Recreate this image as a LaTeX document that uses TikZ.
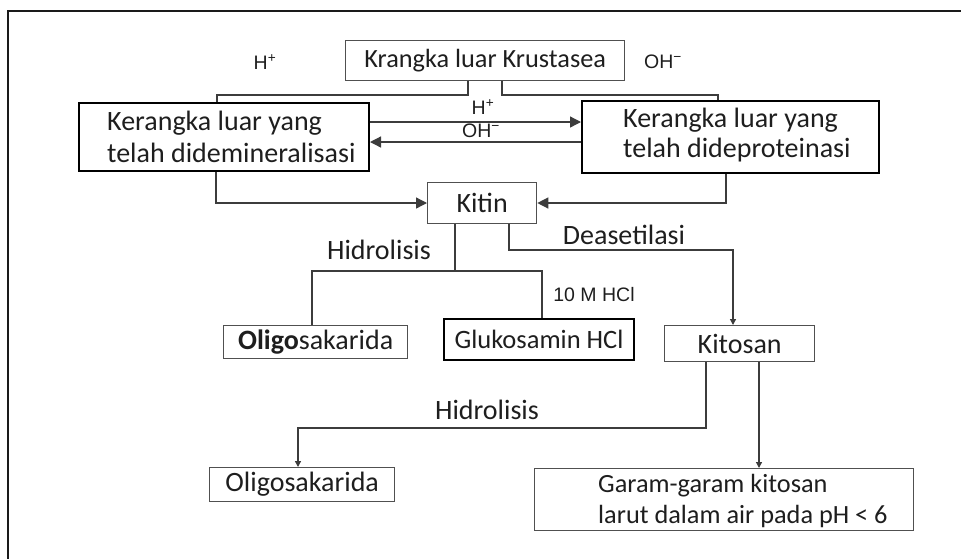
\documentclass[tikz,border=0pt]{standalone}
\usepackage{fontspec}
\setmainfont{Carlito}
\newfontfamily\arialf{Liberation Sans}
\usetikzlibrary{arrows.meta}
\definecolor{txt}{HTML}{1E1E1E}
\definecolor{linegray}{HTML}{3C3C3C}
\definecolor{boxgray}{HTML}{505050}
\definecolor{framec}{HTML}{1A1A1A}
\begin{document}
\begin{tikzpicture}[x=1pt,y=-1pt,
  box/.style={draw=boxgray, line width=1.3pt, inner sep=0pt, anchor=north west, text=txt,
    font=\fontsize{28}{32}\selectfont},
  bbox/.style={box, draw=black, line width=2pt},
  conn/.style={draw=linegray, line width=1.3pt, line join=miter},
  big/.style={-{Triangle[length=11pt,width=11pt]}},
  small/.style={-{Triangle[length=6pt,width=6pt]}},
  lab/.style={text=txt, inner sep=0pt, font=\fontsize{28}{32}\selectfont},
  chem/.style={text=txt, inner sep=0pt, font=\arialf\fontsize{19.5}{22}\selectfont}
]
\useasboundingbox (0,0) rectangle (961,558);
% frame
\draw[line width=1.5pt, draw=framec] (961,11) -- (8,11) -- (8,560);

% boxes
\node[box, minimum width=279pt, minimum height=40pt, font=\fontsize{26.3}{30}\selectfont] (krang) at (345,40) {Krangka luar Krustasea};
\node[bbox, minimum width=290pt, minimum height=68pt] (dem) at (78,102) {};
\node[lab, anchor=west, align=left] (demt) at (107,137) {Kerangka luar yang\\telah didemineralisasi};
\node[bbox, minimum width=297pt, minimum height=72pt] (dep) at (581,100) {};
\node[lab, anchor=west, align=left, font=\fontsize{28}{30}\selectfont] (dept) at (623,135) {Kerangka luar yang\\telah dideproteinasi};
\node[box, minimum width=109pt, minimum height=41pt] (kitin) at (427,182) {Kitin};
\node[box, minimum width=184pt, minimum height=33pt] (oligoA) at (223,325) {\textbf{Oligo}sakarida};
\node[bbox, minimum width=190pt, minimum height=41pt, font=\fontsize{26.5}{30}\selectfont] (gluko) at (443,318) {Glukosamin HCl};
\node[box, minimum width=150pt, minimum height=36pt] (kitosan) at (664,325) {Kitosan};
\node[box, minimum width=185pt, minimum height=34pt] (oligoB) at (209,467) {Oligosakarida};
\node[box, minimum width=379pt, minimum height=62pt] (garam) at (534,468) {};
\node[lab, anchor=west, align=left, font=\fontsize{26.3}{31}\selectfont] (garamt) at (598,501) {Garam-garam kitosan\\larut dalam air pada pH < 6};

% labels
\node[chem] (hp1) at (265,62) {H\textsuperscript{+}};
\node[chem] (oh1) at (663,62) {OH\textsuperscript{−}};
\node[chem] (hp2) at (483,107) {H\textsuperscript{+}};
\node[chem] (oh2) at (481,131) {OH\textsuperscript{−}};
\node[lab] (hid1) at (379,250) {Hidrolisis};
\node[lab] (deas) at (624,235) {Deasetilasi};
\node[chem, font=\arialf\fontsize{19.5}{22}\selectfont] (hcl) at (594,295) {10 M HCl};
\node[lab] (hid2) at (487,410) {Hidrolisis};

% connectors
\coordinate (c1) at (468,95);
\coordinate (c2) at (217,95);
\draw[conn] (krang.south -| c1) -- (c1) -- (c2) -- (dem.north -| c2);
\coordinate (c3) at (502,95);
\coordinate (c4) at (718,95);
\draw[conn] (krang.south -| c3) -- (c3) -- (c4) -- (dep.north -| c4);
\coordinate (c5) at (0,122);
\coordinate (c6) at (0,142);
\draw[conn,big] (dem.east |- c5) -- (dep.west |- c5);
\draw[conn,big] (dep.west |- c6) -- (dem.east |- c6);
\coordinate (c7) at (216,203);
\draw[conn,big] (dem.south -| c7) -- (c7) -- (kitin.west |- c7);
\coordinate (c8) at (726,203);
\draw[conn,big] (dep.south -| c8) -- (c8) -- (kitin.east |- c8);
\coordinate (c9) at (455,271);
\coordinate (c10) at (312,271);
\coordinate (c11) at (542,271);
\draw[conn] (kitin.south -| c9) -- (c9);
\draw[conn] (oligoA.north -| c10) -- (c10) -- (c11) -- (gluko.north -| c11);
\coordinate (c12) at (509,250);
\coordinate (c13) at (733,250);
\draw[conn,small] (kitin.south -| c12) -- (c12) -- (c13) -- (kitosan.north -| c13);
\coordinate (c14) at (706,428);
\coordinate (c15) at (298,428);
\draw[conn,small] (kitosan.south -| c14) -- (c14) -- (c15) -- (oligoB.north -| c15);
\coordinate (c16) at (759,0);
\draw[conn,small] (kitosan.south -| c16) -- (garam.north -| c16);
\end{tikzpicture}
\end{document}
